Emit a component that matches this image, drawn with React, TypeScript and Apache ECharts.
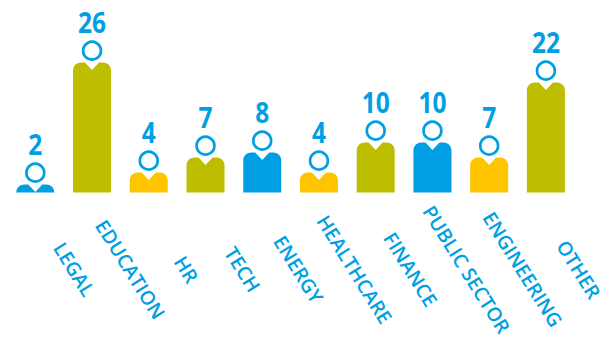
import React, { useEffect, useRef } from "react";
import * as echarts from "echarts";

const categories = ["LEGAL", "EDUCATION", "HR", "TECH", "ENERGY", "HEALTHCARE", "FINANCE", "PUBLIC SECTOR", "ENGINEERING", "OTHER"];
const counts = [2, 26, 4, 7, 8, 4, 10, 10, 7, 22];
// Height of each drawn figure (the LEGAL figure is slightly shorter than its label).
const figureLevels = [1.6, 26, 4, 7, 8, 4, 10, 10, 7, 22];
const BLUE = "#009fe3";
const OLIVE = "#bdbe00";
const YELLOW = "#ffc400";
const colors = [BLUE, OLIVE, YELLOW, OLIVE, BLUE, YELLOW, OLIVE, BLUE, YELLOW, OLIVE];

function renderFigure(params: any, api: any) {
  const i = api.value(0);
  const [cx, top] = api.coord([i, api.value(1)]);
  const [, base] = api.coord([i, 0]);
  const color = colors[i];
  const hw = 19;
  const x0 = cx - hw;
  const x1 = cx + hw;
  const r = Math.min(8, base - top);
  const d = [
    `M${x0} ${base}`,
    `L${x0} ${top + r}`,
    `C${x0} ${top + r * 0.35} ${x0 + r * 0.5} ${top + 0.2} ${x0 + r} ${top}`,
    `L${cx - 7} ${top}`,
    `L${cx} ${top + 7.5}`,
    `L${cx + 7} ${top}`,
    `L${x1 - r} ${top}`,
    `C${x1 - r * 0.5} ${top + 0.2} ${x1} ${top + r * 0.35} ${x1} ${top + r}`,
    `L${x1} ${base}`,
    "Z",
  ].join(" ");
  return {
    type: "group",
    children: [
      { type: "path", shape: { pathData: d }, style: { fill: color } },
      {
        type: "circle",
        shape: { cx, cy: top - 11.8, r: 8.9 },
        style: { fill: "#fff", stroke: BLUE, lineWidth: 2.7 },
      },
      {
        type: "text",
        x: cx,
        y: top - 40.5,
        scaleX: 0.86,
        style: {
          text: String(api.value(2)),
          x: 0,
          y: 0,
          align: "center",
          verticalAlign: "middle",
          fill: BLUE,
          font: '700 28.5px "Open Sans"',
        },
      },
    ],
  };
}

export default function App() {
  const ref = useRef<HTMLDivElement>(null);
  useEffect(() => {
    const chart = echarts.init(ref.current!, undefined, { renderer: "svg" });
    chart.setOption({
      animation: false,
      grid: [
        { left: 35.3, width: 510.6, top: 42.5, height: 150 },
        { left: 74.5, width: 515, top: 123, height: 150 },
      ],
      xAxis: [
        { type: "category", gridIndex: 0, boundaryGap: false, data: categories, axisLine: { show: false }, axisTick: { show: false }, axisLabel: { show: false } },
        {
          type: "category",
          gridIndex: 1,
          boundaryGap: false,
          data: categories,
          axisLine: { show: false },
          axisTick: { show: false },
          axisLabel: {
            interval: 0,
            rotate: -58,
            margin: 0,
            align: "center",
            verticalAlign: "middle",
            color: BLUE,
            fontFamily: "Open Sans",
            fontSize: 19.5,
            fontWeight: 600,
            hideOverlap: false,
          },
        },
      ],
      yAxis: [
        { type: "value", gridIndex: 0, min: 0, max: 30, show: false },
        { type: "value", gridIndex: 1, min: 0, max: 30, show: false },
      ],
      series: [
        {
          type: "custom",
          xAxisIndex: 0,
          yAxisIndex: 0,
          clip: false,
          renderItem: renderFigure,
          encode: { x: 0, y: 1 },
          data: categories.map((_, i) => [i, figureLevels[i], counts[i]]),
        },
      ],
    });
    return () => chart.dispose();
  }, []);
  return <div ref={ref} style={{ width: 606, height: 339, position: "absolute", left: 0, top: 0, background: "#fff" }} />;
}
